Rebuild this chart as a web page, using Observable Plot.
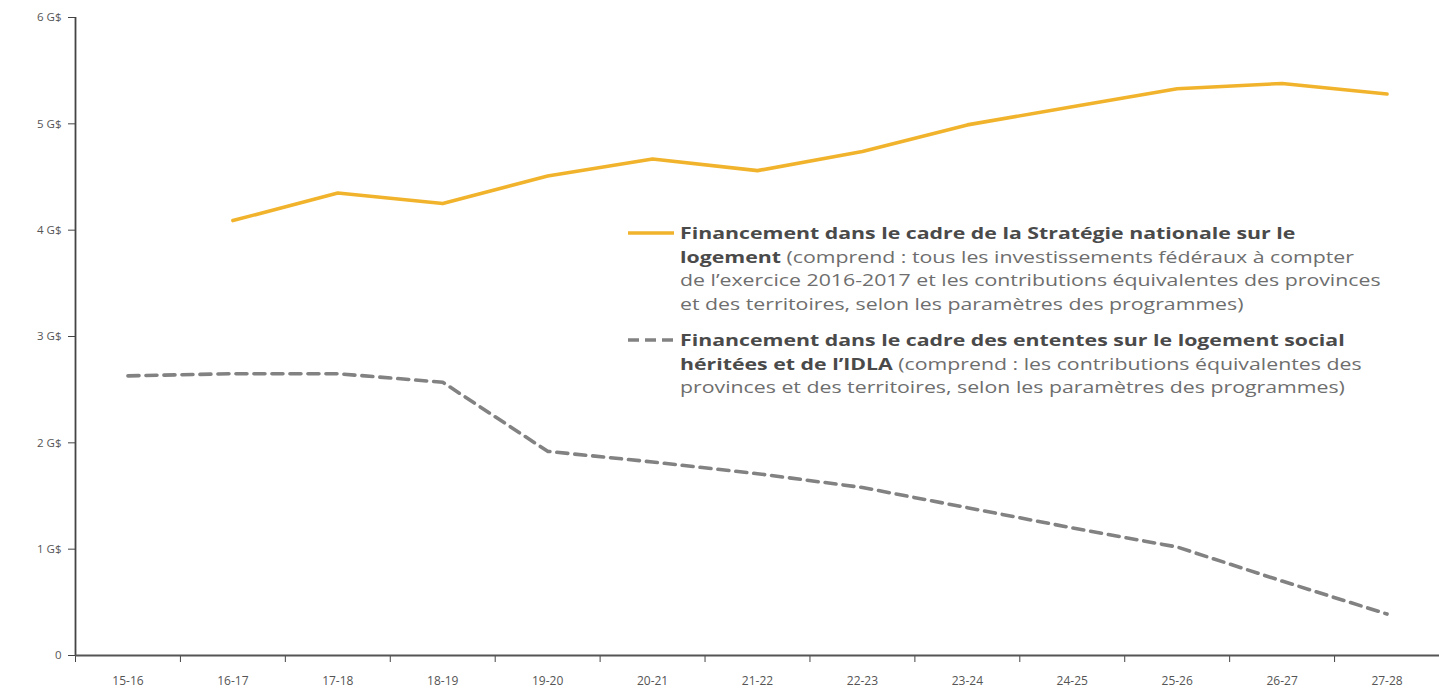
<!DOCTYPE html>
<html>
<head>
<meta charset="utf-8">
<script src="https://cdn.jsdelivr.net/npm/d3@7"></script>
<script src="https://cdn.jsdelivr.net/npm/@observablehq/plot@0.6"></script>
<style>
  html, body { margin: 0; padding: 0; background: #fff; }
  #wrap { position: relative; width: 1439px; height: 692px; font-family: "Open Sans", sans-serif; overflow: hidden; }
  .legend { position: absolute; left: 628px; width: 800px; font-size: 16.5px; line-height: 23.7px; color: #6e6e6e; }
  .legend b { color: #4a4a4a; font-weight: 700; }
  .legend .txt { position: absolute; left: 52px; white-space: nowrap; transform: scaleX(1.29); transform-origin: 0 0; }
  .legend svg { position: absolute; left: 0; top: 9px; }
</style>
</head>
<body>
<div id="wrap"></div>
<script>
const categories = ["15-16","16-17","17-18","18-19","19-20","20-21","21-22","22-23","23-24","24-25","25-26","26-27","27-28"];
const strategieNationale = [null, 4.09, 4.35, 4.25, 4.51, 4.67, 4.56, 4.74, 4.99, 5.16, 5.33, 5.38, 5.28];
const ententesHeritees = [2.63, 2.65, 2.65, 2.57, 1.92, 1.82, 1.71, 1.58, 1.39, 1.20, 1.02, 0.70, 0.39];
const yTicks = [0, 1, 2, 3, 4, 5, 6];
const yTickLabels = ["0", "1 G$", "2 G$", "3 G$", "4 G$", "5 G$", "6 G$"];

const yellow = "#f1b32c";
const grey = "#828282";

const rowsA = categories.map((c, i) => ({pos: i + 0.5, value: strategieNationale[i]})).filter(d => d.value != null);
const rowsB = categories.map((c, i) => ({pos: i + 0.5, value: ententesHeritees[i]}));
const boundaries = d3.range(categories.length + 1);
const centers = categories.map((c, i) => i + 0.5);

const chart = Plot.plot({
  width: 1439,
  height: 692,
  marginLeft: 75,
  marginRight: 0,
  marginTop: 17,
  marginBottom: 37,
  x: {type: "linear", domain: [0, categories.length], axis: null},
  y: {domain: [0, 6], axis: null},
  style: {fontFamily: "Open Sans, sans-serif", fontSize: "11px", color: "#555", background: "white"},
  marks: [
    Plot.axisY({ticks: yTicks, tickFormat: d => yTickLabels[yTicks.indexOf(d)], tickSize: 7, tickPadding: 7, stroke: "#444", fontSize: 11.5, label: null}),
    Plot.axisX({ticks: boundaries, tickFormat: () => "", tickSize: 7, stroke: "#444", label: null}),
    Plot.axisX({ticks: centers, tickFormat: d => categories[Math.floor(d)], tickSize: 0, tickPadding: 21, fontSize: 12, label: null}),
    Plot.ruleX([0], {stroke: "#444", strokeWidth: 1.8}),
    Plot.ruleY([0], {stroke: "#555", strokeWidth: 2.2}),
    Plot.line(rowsB, {x: "pos", y: "value", stroke: grey, strokeWidth: 3.6, strokeDasharray: "11,7", strokeLinejoin: "round"}),
    Plot.line(rowsA, {x: "pos", y: "value", stroke: yellow, strokeWidth: 3.6, strokeLinejoin: "round", strokeLinecap: "round"})
  ]
});

const wrap = document.getElementById("wrap");
wrap.appendChild(chart);

const legendItems = [
  {top: 221, stroke: yellow, dash: null,
   html: "<b>Financement dans le cadre de la Stratégie nationale sur le</b><br><b>logement</b> (comprend : tous les investissements fédéraux à compter<br>de l’exercice 2016-2017 et les contributions équivalentes des provinces<br>et des territoires, selon les paramètres des programmes)"},
  {top: 328, stroke: grey, dash: "11,6",
   html: "<b>Financement dans le cadre des ententes sur le logement social</b><br><b>héritées et de l’IDLA</b> (comprend : les contributions équivalentes des<br>provinces et des territoires, selon les paramètres des programmes)"}
];
for (const it of legendItems) {
  const div = document.createElement("div");
  div.className = "legend";
  div.style.top = it.top + "px";
  div.innerHTML = `<svg width="46" height="6"><line x1="0" x2="46" y1="3" y2="3" stroke="${it.stroke}" stroke-width="3.6" ${it.dash ? `stroke-dasharray="${it.dash}"` : ""}/></svg><div class="txt">${it.html}</div>`;
  wrap.appendChild(div);
}
</script>
</body>
</html>
